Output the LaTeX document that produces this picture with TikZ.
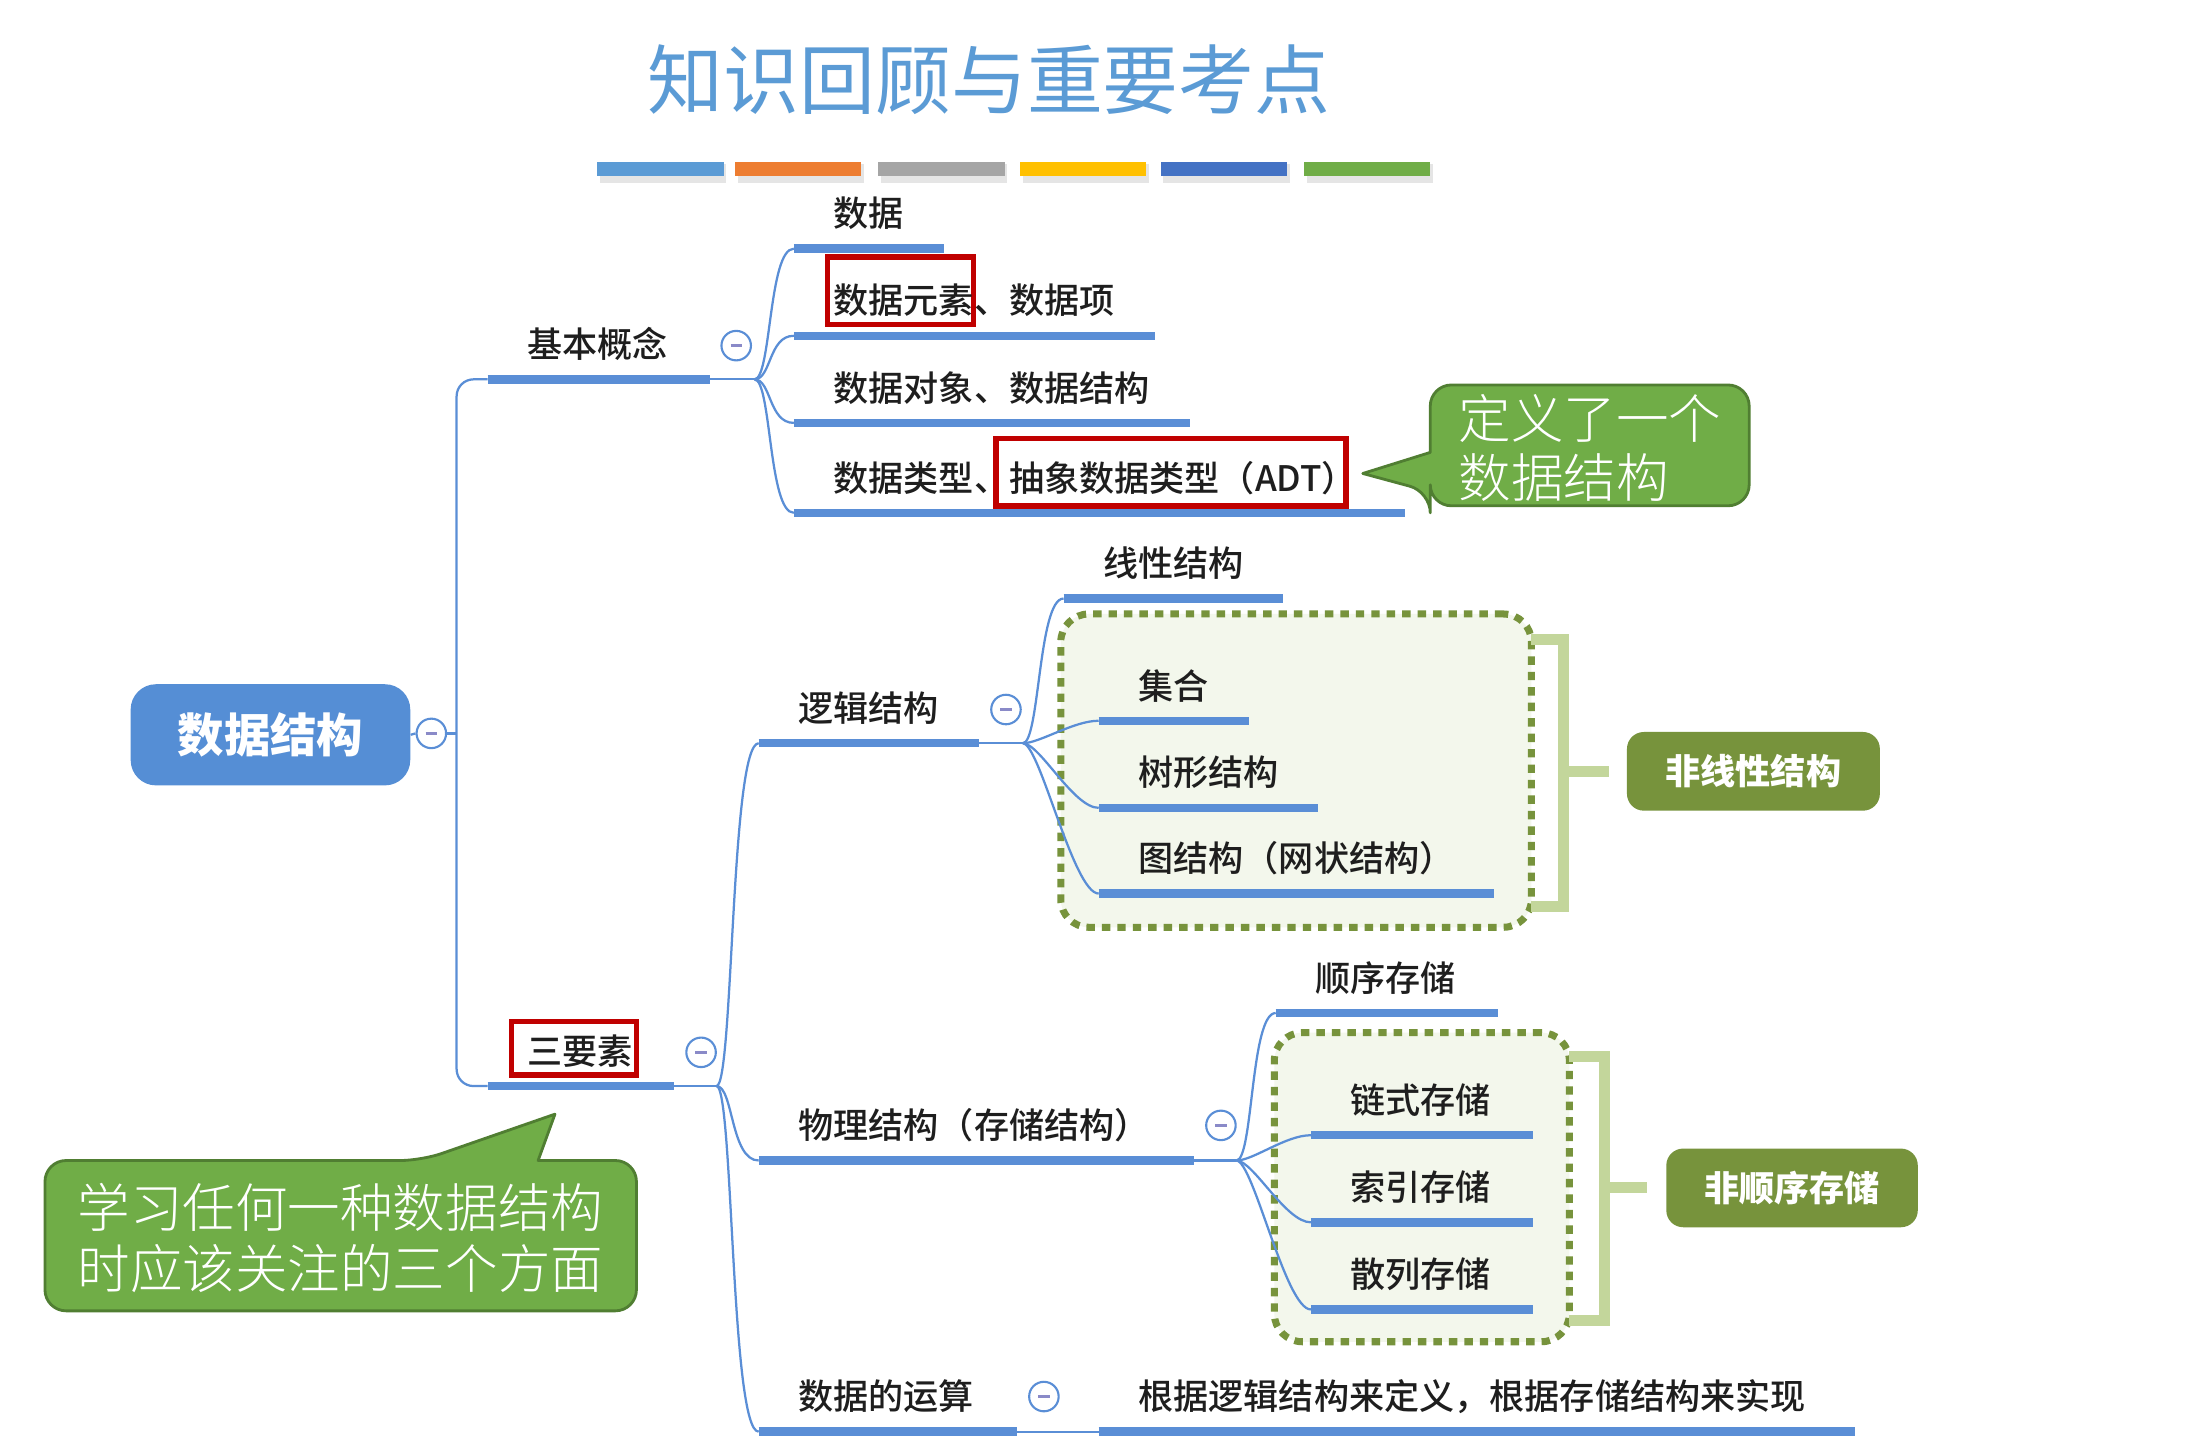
\documentclass[tikz,border=0pt]{standalone}
\usepackage{fontspec}
\setmainfont{Noto Sans CJK SC}
\newfontfamily\medcjk{Noto Sans CJK SC Medium}
\newfontfamily\lightcjk{Noto Sans CJK SC Light}
\usetikzlibrary{calc}
\newlength\un
\setlength\un{0.025cm}
\definecolor{mmblue}{HTML}{5A8ED6}
\definecolor{rootblue}{HTML}{558ED5}
\definecolor{titleblue}{HTML}{5B9BD5}
\definecolor{cogreen}{HTML}{70AD47}
\definecolor{codark}{HTML}{507E32}
\definecolor{olive}{HTML}{77933C}
\definecolor{lightgr}{HTML}{C3D69B}
\definecolor{boxfill}{HTML}{F3F7EC}
\definecolor{redbox}{HTML}{C00000}
\definecolor{minusc}{HTML}{8A8AC8}
\definecolor{txt}{HTML}{1E1E1E}
\definecolor{tbA}{HTML}{5B9BD5}
\definecolor{tbB}{HTML}{ED7D31}
\definecolor{tbC}{HTML}{A5A5A5}
\definecolor{tbD}{HTML}{FFC000}
\definecolor{tbE}{HTML}{4472C4}
\definecolor{tbF}{HTML}{70AD47}
\newcommand\lblfont{\medcjk\fontsize{17.78pt}{20pt}\selectfont}
\newcommand\titlefont{\fontsize{38.4pt}{44pt}\selectfont}
\newcommand\rootfont{\fontsize{23.5pt}{26pt}\selectfont\bfseries}
\newcommand\tagfont{\fontsize{17.78pt}{20pt}\selectfont\bfseries}
\newcommand\cofontA{\lightcjk\fontsize{26.6pt}{29.87pt}\selectfont}
\newcommand\cofontB{\lightcjk\fontsize{26.6pt}{30.59pt}\selectfont}
\newcommand\topic[5]{%
  \coordinate (#1-s) at (#2,#4);
  \coordinate (#1-e) at (#3,#4);
  \draw[barl] (#1-s) -- (#1-e);
  \node[lbl] (#1) at ($(#1-s)+(28,-25)$) {#5};
}
\begin{document}
\begin{tikzpicture}[x=0.025cm,y=-0.025cm,
  conn/.style={draw=mmblue, line width=1.6\un},
  barl/.style={draw=mmblue, line width=6\un},
  lbl/.style={anchor=west, inner sep=0pt, text=txt, font=\lblfont},
  colbtn/.style={circle, draw=mmblue, line width=1.5\un, fill=white, minimum size=21\un, inner sep=0pt,
    path picture={\draw[minusc, line width=2\un] ($(path picture bounding box.center)+(-4,0)$) -- ($(path picture bounding box.center)+(4,0)$);}},
  rootbox/.style={fill=rootblue, rounded corners=18\un, minimum width=199\un, minimum height=72\un, text=white, font=\rootfont, inner sep=0pt},
  tagbox/.style={fill=olive, rounded corners=12\un, text=white, font=\tagfont, inner sep=0pt, minimum height=56\un},
  dotbox/.style={draw=olive, fill=boxfill, line width=5\un, dash pattern=on 6\un off 5\un, rounded corners=20\un, inner sep=0pt},
  brk/.style={draw=lightgr, line width=8\un},
  redframe/.style={draw=redbox, fill=white, line width=4\un, inner sep=0pt},
  cofill/.style={fill=cogreen, draw=codark, line width=2\un, line join=round},
  cotext/.style={text=white, align=left, inner sep=0pt, anchor=west}
]
\useasboundingbox (0,0) rectangle (1568,1032);
\fill[white] (0,0) rectangle (1568,1032);

% title
\node[text=titleblue, font=\titlefont, inner sep=0pt] (title) at (704,57) {知识回顾与重要考点};
\foreach \xa/\xb/\cc in {425/515/tbA, 523/613/tbB, 625/715/tbC, 726/816/tbD, 826/916/tbE, 928/1018/tbF}{
  \fill[black, opacity=0.10] (\xa+2,117) rectangle (\xb+2,130);
  \fill[\cc] (\xa,115) rectangle (\xb,125);
}

% callouts
\filldraw[cofill] (1018,350) -- (970,337) -- (1018,322) [rounded corners=15\un] -- (1018,274) -- (1245,274) -- (1245,360) -- (1018,360) -- cycle;
\node[cotext, font=\cofontA] (co1) at (1038,319) {定义了一个\\数据结构};
\filldraw[cofill] (300,826) -- (395,793) -- (383,826) [rounded corners=15\un] -- (453,826) -- (453,933) -- (32,933) -- (32,826) -- cycle;
\node[cotext, font=\cofontB] (co2) at (55,881) {学习任何一种数据结构\\时应该关注的三个方面};

% dotted groups and brackets
\node[dotbox, minimum width=335\un, minimum height=223\un] (box1) at (922.5,548.5) {};
\node[dotbox, minimum width=210\un, minimum height=220\un] (box2) at (1012,845) {};
\draw[brk] (1090,455) -| (1113,645) -- (1090,645);
\draw[brk] (1113,549) -- (1145,549);
\draw[brk] (1117,752) -| (1142,940) -- (1117,940);
\draw[brk] (1142,845) -- (1172,845);
\node[tagbox, minimum width=180\un] (tag1) at (1248,549) {非线性结构};
\node[tagbox, minimum width=179\un] (tag2) at (1275.5,845.5) {非顺序存储};

% red highlight frames
\node[redframe, minimum width=104\un, minimum height=48\un] (rf1) at (641,207) {};
\node[redframe, minimum width=249\un, minimum height=48\un] (rf2) at (833.5,336) {};
\node[redframe, minimum width=89\un, minimum height=38\un] (rf3) at (408.5,746) {};

% root
\node[rootbox] (root) at (192.5,523) {数据结构};

% topics
\topic{jb}{347}{505}{270}{基本概念}
\topic{d1}{565}{672}{177}{数据}
\topic{d2}{565}{822}{239}{数据元素、数据项}
\topic{d3}{565}{847}{301}{数据对象、数据结构}
\topic{d4}{565}{1000}{365}{数据类型、抽象数据类型（ADT）}
\topic{sy}{347}{480}{773}{三要素}
\topic{lj}{540}{697}{529}{逻辑结构}
\topic{xx}{757}{913}{426}{线性结构}
\topic{jh}{782}{889}{513}{集合}
\topic{sx}{782}{938}{575}{树形结构}
\topic{tj}{782}{1063}{636}{图结构（网状结构）}
\topic{wl}{540}{850}{826}{物理结构（存储结构）}
\topic{sc}{908}{1066}{721}{顺序存储}
\topic{ls}{933}{1091}{808}{链式存储}
\topic{syc}{933}{1091}{870}{索引存储}
\topic{sl}{933}{1091}{932}{散列存储}
\topic{ys}{540}{724}{1019}{数据的运算}
\topic{gj}{782}{1320}{1019}{根据逻辑结构来定义，根据存储结构来实现}

% split points
\coordinate (trunk) at (325,522);
\coordinate (s1) at (537,270);
\coordinate (s2) at (510,773);
\coordinate (s3) at (728,529);
\coordinate (s4) at (880,826);

% connectors
\node[colbtn] (c0) at (307,522) {};
\draw[conn] (root.east) -- (c0.west);
\draw[conn] (c0.east) -- (trunk);
\draw[conn, rounded corners=12\un] (jb-s) -| (trunk) |- (sy-s);
\draw[conn] (jb-e) -- (s1);
\foreach \t in {d1,d2,d3,d4} \draw[conn] (s1) .. controls +(12,0) and +(-18,0) .. (\t-s);
\draw[conn] (sy-e) -- (s2);
\foreach \t in {lj,wl,ys} \draw[conn] (s2) .. controls +(12,0) and +(-20,0) .. (\t-s);
\draw[conn] (lj-e) -- (s3);
\foreach \t in {xx,jh,sx,tj} \draw[conn] (s3) .. controls +(12,0) and +(-18,0) .. (\t-s);
\draw[conn] (wl-e) -- (s4);
\foreach \t in {sc,ls,syc,sl} \draw[conn] (s4) .. controls +(12,0) and +(-18,0) .. (\t-s);
\draw[conn] (ys-e) -- (gj-s);

% collapse buttons
\node[colbtn] (c1) at (524,246) {};
\node[colbtn] (c2) at (499,749) {};
\node[colbtn] (c3) at (716,505) {};
\node[colbtn] (c4) at (869,801) {};
\node[colbtn] (c5) at (743,994) {};
\end{tikzpicture}
\end{document}
